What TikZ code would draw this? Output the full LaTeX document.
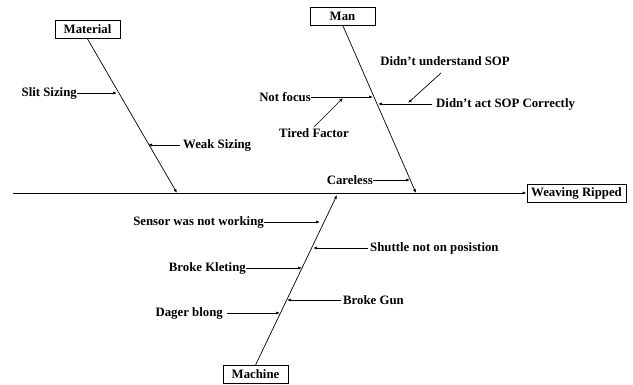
\documentclass[tikz,border=0pt]{standalone}
\usepackage{fontspec}
\setmainfont{Liberation Serif}
\usetikzlibrary{arrows.meta}
\begin{document}
\begin{tikzpicture}[x=1pt,y=-1pt,
  lbl/.style={font=\fontsize{12.8}{14}\selectfont\bfseries, inner sep=0pt},
  catbox/.style={draw, line width=0.8pt, font=\fontsize{12.8}{14}\selectfont\bfseries, inner sep=0pt, minimum height=18pt},
  bone/.style={line width=0.7pt, -{Latex[length=4pt,width=3pt]}},
  sub/.style={line width=0.7pt, -{Latex[length=4pt,width=3pt]}}]
\useasboundingbox (0,0) rectangle (633,385);

% effect and spine
\node[catbox, minimum width=99pt] (eff) at (576.5,193) {Weaving Ripped};
\coordinate (spst) at (13,193);
\draw[bone] (spst) -- (eff.west);

% category boxes
\node[catbox, minimum width=65pt] (mat) at (87.5,29.5) {Material};
\node[catbox, minimum width=65pt] (man) at (342.5,16.5) {Man};
\node[catbox, minimum width=65pt] (mac) at (255.5,374.5) {Machine};

% bone end points
\coordinate (matend) at (177,193);
\coordinate (manend) at (416,193);
\coordinate (macend) at (337,195);
\coordinate (mantop) at (343,26);

\draw[bone] (mat.south) -- (matend);
\draw[bone] (mantop) -- (manend);
\draw[bone] (mac.north) -- (macend);

% Material causes
\node[lbl, anchor=east] (slit) at (77,93) {Slit Sizing};
\coordinate (slitp) at (117,93);
\draw[sub] (slit.east) -- (slitp);
\node[lbl, anchor=west] (weak) at (183,145) {Weak Sizing};
\coordinate (weakp) at (148,145);
\draw[sub] ([xshift=-3pt]weak.west) -- (weakp);

% Man causes
\node[lbl, anchor=east] (nf) at (311,97) {Not focus};
\coordinate (nfp) at (373,97);
\draw[sub] (nf.east) -- (nfp);
\node[lbl] (tf) at (314,133) {Tired Factor};
\coordinate (tfs) at (314,127);
\coordinate (tfp) at (343,98);
\draw[sub] (tfs) -- (tfp);
\node[lbl] (dus) at (445,61) {Didn’t understand SOP};
\coordinate (dusa) at (441,73);
\coordinate (dusp) at (408,103);
\draw[sub] (dusa) -- (dusp);
\node[lbl, anchor=west] (das) at (436,104) {Didn’t act SOP Correctly};
\coordinate (dasp) at (378,104);
\draw[sub] ([xshift=-4pt]das.west) -- (dasp);
\node[lbl, anchor=east] (car) at (373,180) {Careless};
\coordinate (carp) at (410,180);
\draw[sub] (car.east) -- (carp);

% Machine causes
\node[lbl, anchor=east] (sen) at (264,222) {Sensor was not working};
\coordinate (senp) at (320,222);
\draw[sub] (sen.east) -- (senp);
\node[lbl, anchor=west] (shu) at (370,248) {Shuttle not on posistion};
\coordinate (shup) at (313,248);
\draw[sub] ([xshift=-2pt]shu.west) -- (shup);
\node[lbl, anchor=east] (bk) at (246,268) {Broke Kleting};
\coordinate (bkp) at (302,268);
\draw[sub] (bk.east) -- (bkp);
\node[lbl, anchor=west] (bg) at (343,300) {Broke Gun};
\coordinate (bgp) at (287,300);
\draw[sub] ([xshift=-2pt]bg.west) -- (bgp);
\node[lbl, anchor=east] (db) at (223,313) {Dager blong};
\coordinate (dbp) at (280,313);
\draw[sub] ([xshift=4pt]db.east) -- (dbp);
\end{tikzpicture}
\end{document}
